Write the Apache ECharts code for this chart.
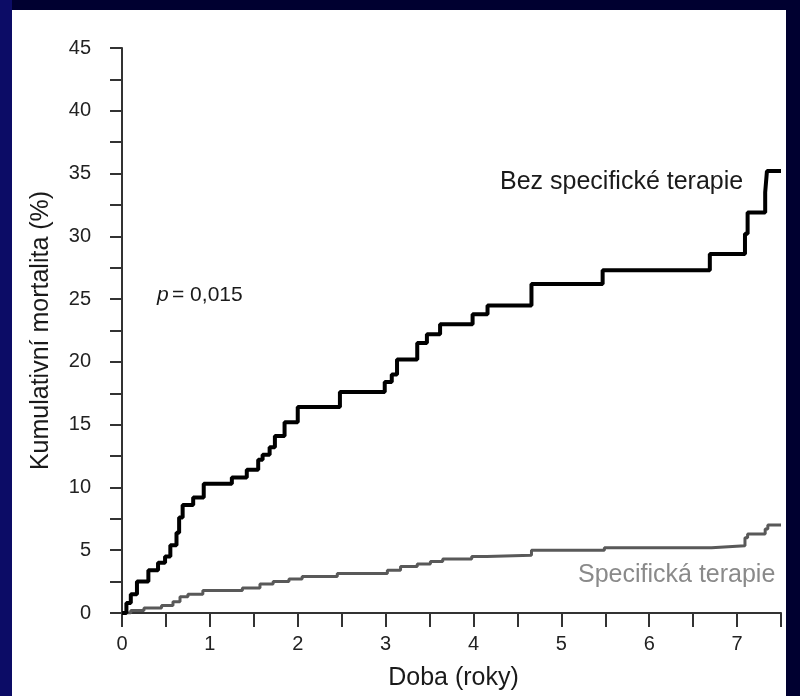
<!DOCTYPE html>
<html>
<head>
<meta charset="utf-8">
<script src="https://cdn.jsdelivr.net/npm/echarts@6/dist/echarts.min.js"></script>
<style>
html,body{margin:0;padding:0;background:#000030;}
#c{width:800px;height:696px;}
</style>
</head>
<body>
<div id="c"></div>
<script>
// Kaplan–Meier cumulative mortality steps [years, %]
const bezTerapie = [
  [0,0],[0.05,0.8],[0.10,1.5],[0.17,2.5],[0.30,3.4],[0.41,4.0],[0.49,4.5],[0.55,5.4],
  [0.62,6.4],[0.65,7.6],[0.69,8.6],[0.81,9.2],[0.93,10.3],[1.25,10.8],[1.42,11.4],
  [1.55,12.2],[1.60,12.6],[1.68,13.2],[1.74,14.1],[1.85,15.2],[2.00,16.4],[2.48,17.6],
  [2.99,18.4],[3.07,19.0],[3.13,20.2],[3.36,21.5],[3.47,22.2],[3.62,23.0],[3.99,23.8],
  [4.16,24.5],[4.66,26.2],[5.47,27.3],[6.69,28.6],[7.09,30.2],[7.12,31.9],[7.32,33.5],
  [7.34,35.2],[7.5,35.2]
];
const specifickaTerapie = [
  [0,0],[0.10,0.2],[0.25,0.4],[0.45,0.6],[0.58,0.9],[0.66,1.3],[0.75,1.5],[0.92,1.8],
  [1.37,2.0],[1.57,2.3],[1.72,2.5],[1.90,2.7],[2.05,2.9],[2.45,3.15],[3.02,3.4],
  [3.17,3.7],[3.36,3.9],[3.51,4.1],[3.65,4.3],[3.98,4.5],[4.15,4.6],[4.66,5.0],
  [5.49,5.2],[6.71,5.35],[7.09,6.0],[7.12,6.3],[7.32,6.7],[7.35,7.0],[7.5,7.0]
];
const xTickValues = [0,0.5,1,1.5,2,2.5,3,3.5,4,4.5,5,5.5,6,6.5,7,7.5];
const xLabelValues = [0,1,2,3,4,5,6,7];
const yTickValues = [0,2.5,5,7.5,10,12.5,15,17.5,20,22.5,25,27.5,30,32.5,35,37.5,40,42.5,45];
const yLabelValues = [0,5,10,15,20,25,30,35,40,45];
const seriesNames = ['Bez specifické terapie','Specifická terapie'];
const pText = '0,015';

const font = '"Liberation Sans", Arial, sans-serif';
const chart = echarts.init(document.getElementById('c'), null, {renderer:'canvas'});
chart.setOption({
  backgroundColor: '#000030',
  animation: false,
  graphic: [
    {type:'rect', z:-10, shape:{x:0,y:0,width:12,height:696}, style:{fill:'#0c0c66'}},
    {type:'rect', z:-10, shape:{x:12,y:10,width:774,height:686}, style:{fill:'#ffffff'}},
    {type:'text', left:500, top:170, style:{text:seriesNames[0], font:'25px '+font, fill:'#1a1a1a'}},
    {type:'text', left:578, top:563, style:{text:seriesNames[1], font:'25px '+font, fill:'#8a8a8a'}},
    {type:'text', left:157, top:285, style:{
      rich:{i:{fontStyle:'italic', fontSize:21, fontFamily:font, fill:'#1a1a1a'},
            n:{fontSize:21, fontFamily:font, fill:'#1a1a1a'}},
      text:'{i|p} {n|= ' + pText + '}'}}
  ],
  grid: {left:112, right:19, top:48, bottom:82, containLabel:false},
  xAxis: {
    type:'value', min:-0.114, max:7.5,
    name:'Doba (roky)', nameLocation:'middle', nameGap:53,
    nameTextStyle:{fontSize:25, color:'#1a1a1a', fontFamily:font, padding:[0,0,0,14]},
    axisLine:{show:true, lineStyle:{color:'#333', width:2}},
    axisTick:{show:true, length:14, inside:false, lineStyle:{color:'#333', width:2}, customValues:xTickValues},
    axisLabel:{fontSize:20, color:'#222', fontFamily:font, margin:21, customValues:xLabelValues},
    splitLine:{show:false}
  },
  yAxis: {
    type:'value', min:0, max:45,
    name:'Kumulativní mortalita (%)', nameLocation:'middle', nameGap:58, nameRotate:90,
    nameTextStyle:{fontSize:25, color:'#1a1a1a', fontFamily:font},
    axisLine:{show:true, lineStyle:{color:'#333', width:2}},
    axisTick:{show:true, length:12, lineStyle:{color:'#333', width:2}, customValues:yTickValues},
    axisLabel:{fontSize:20, color:'#222', fontFamily:font, margin:21, customValues:yLabelValues},
    splitLine:{show:false}
  },
  series: [
    {name:seriesNames[0], type:'line', step:'end', data:bezTerapie, showSymbol:false,
     lineStyle:{color:'#000', width:4}, z:3},
    {name:seriesNames[1], type:'line', step:'end', data:specifickaTerapie, showSymbol:false,
     lineStyle:{color:'#595959', width:3}, z:2}
  ]
});
</script>
</body>
</html>
